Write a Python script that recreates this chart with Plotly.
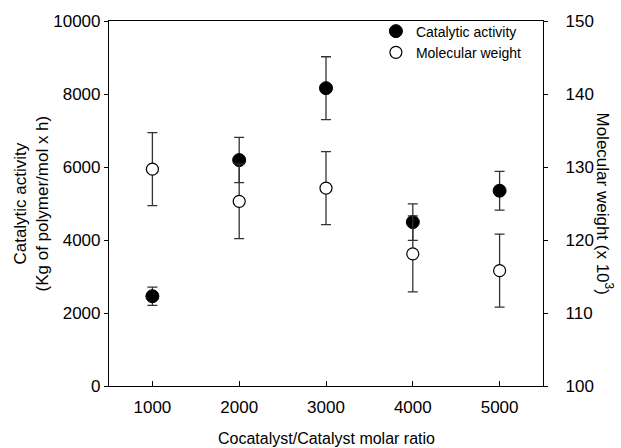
import plotly.graph_objects as go

ratio = [1000, 2000, 3000, 4000, 5000]
activity = [2460, 6190, 8160, 4490, 5350]
activity_err = [250, 620, 860, 500, 530]
mw = [129.7, 125.3, 127.1, 118.1, 115.8]
mw_err = [5.0, 5.1, 5.0, 5.2, 5.0]
left_ticks = [0, 2000, 4000, 6000, 8000, 10000]
left_ticktext = ["0", "2000", "4000", "6000", "8000", "10000"]
right_ticks = [100, 110, 120, 130, 140, 150]

FONT = "Liberation Sans, Arial, sans-serif"

fig = go.Figure()

fig.add_trace(go.Scatter(
    x=ratio, y=mw, yaxis="y2", mode="markers", name="Molecular weight",
    marker=dict(symbol="circle", size=12, color="white",
                line=dict(color="black", width=1.2)),
    error_y=dict(type="data", array=mw_err, visible=True,
                 color="#333333", thickness=1.3, width=5),
    legendrank=2,
))
fig.add_trace(go.Scatter(
    x=ratio, y=activity, yaxis="y", mode="markers", name="Catalytic activity",
    marker=dict(symbol="circle", size=13, color="black",
                line=dict(color="black", width=1)),
    error_y=dict(type="data", array=activity_err, visible=True,
                 color="#333333", thickness=1.3, width=5),
    legendrank=1,
))

fig.update_layout(
    width=621, height=448,
    margin=dict(l=109, r=78, t=19, b=62),
    paper_bgcolor="white", plot_bgcolor="white",
    font=dict(family=FONT, size=17, color="black"),
    showlegend=True,
    legend=dict(x=0.615, y=1.015, xanchor="left", yanchor="top",
                bgcolor="rgba(0,0,0,0)", font=dict(size=14, family=FONT),
                itemwidth=30, tracegroupgap=0),
    xaxis=dict(range=[500, 5500], tickvals=ratio, ticks="inside", ticklen=5,
               tickwidth=1, tickcolor="black", showline=True, linecolor="black",
               linewidth=1.2, mirror=True, showgrid=False, zeroline=False,
               ticklabelstandoff=5, tickfont=dict(size=17)),
    yaxis=dict(range=[0, 10000], tickvals=left_ticks, ticktext=left_ticktext,
               ticks="outside", ticklen=4, tickwidth=1, tickcolor="black",
               showline=True, linecolor="black", linewidth=1.2,
               showgrid=False, zeroline=False, tickfont=dict(size=17)),
    yaxis2=dict(range=[100, 150], tickvals=right_ticks,
                overlaying="y", side="right", ticks="outside", ticklen=4,
                tickwidth=1, tickcolor="black", showline=True,
                linecolor="black", linewidth=1.2, showgrid=False,
                zeroline=False, ticklabelstandoff=14, tickfont=dict(size=17)),
    annotations=[
        dict(text="Catalytic activity<br>(Kg of polymer/mol x h)",
             xref="paper", yref="paper", x=0, y=0.5, xshift=-78,
             xanchor="center", yanchor="middle", textangle=-90,
             showarrow=False, font=dict(size=17, family=FONT)),
        dict(text="Molecular weight (x 10<sup>3</sup>)",
             xref="paper", yref="paper", x=1, y=0.5, xshift=62,
             xanchor="center", yanchor="middle", textangle=90,
             showarrow=False, font=dict(size=17, family=FONT)),
        dict(text="Cocatalyst/Catalyst molar ratio",
             xref="paper", yref="paper", x=0.5, y=0, yshift=-52,
             xanchor="center", yanchor="middle",
             showarrow=False, font=dict(size=16, family=FONT)),
    ],
)

fig.write_html("out.html", config={"displayModeBar": False},
               post_script="document.body.style.margin='0';document.body.style.overflow='hidden';")
